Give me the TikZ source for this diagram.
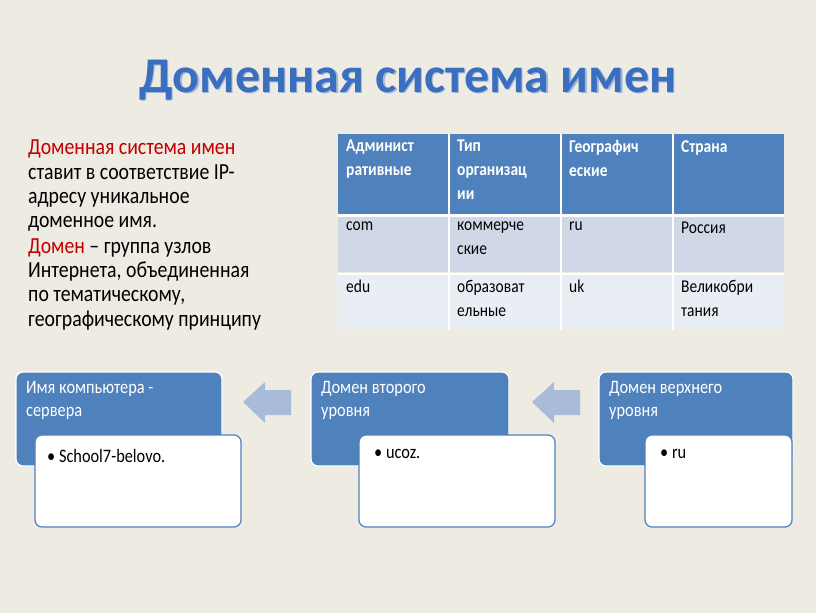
\documentclass[tikz,border=0pt]{standalone}
\usepackage{fontspec}
\setmainfont[FakeStretch=0.86]{Carlito}
\newfontfamily\ttlfont{Carlito}
\definecolor{bg}{HTML}{EEEBE2}
\definecolor{hdr}{HTML}{4F81BD}
\definecolor{rowa}{HTML}{D0D8E8}
\definecolor{rowb}{HTML}{E9EDF4}
\definecolor{arr}{HTML}{A9BBD9}
\definecolor{ttl}{HTML}{3A6EBE}
\definecolor{ttlsh}{HTML}{9DB5DA}
\definecolor{red}{HTML}{C00000}
\begin{document}
\begin{tikzpicture}[x=1pt,y=-1pt,
  cell/.style={anchor=north west,inner sep=0pt,align=left,font=\fontsize{18}{24}\selectfont},
  hcell/.style={cell,text=white,font=\fontsize{18}{24}\selectfont\bfseries},
  bluebox/.style={fill=hdr,draw=white,line width=1.2pt,rounded corners=7pt},
  whitebox/.style={fill=white,draw=hdr,line width=1.2pt,rounded corners=7pt},
  btxt/.style={anchor=north west,inner sep=0pt,text=white,font=\fontsize{19}{23}\selectfont,align=left},
  wtxt/.style={anchor=north west,inner sep=0pt,font=\fontsize{19}{20}\selectfont},
  arrowshape/.style={fill=arr}]
\fill[bg] (0,0) rectangle (816,613);
\node[text=ttlsh] (titlesh) at (409.5,81.5) {\ttlfont\fontsize{50}{56}\selectfont\bfseries Доменная система имен};
\node[text=ttl] (title) at (408,80) {\ttlfont\fontsize{50}{56}\selectfont\bfseries Доменная система имен};
\node[anchor=north west,inner sep=0pt,align=left,font=\fontsize{23}{24.3}\selectfont] (left) at (28,140)
 {\textcolor{red}{Доменная система имен}\\ ставит в соответствие IP-\\адресу уникальное\\доменное имя.\\[1pt]
 \textcolor{red}{Домен} – группа узлов\\Интернета, объединенная\\по тематическому,\\географическому принципу};
% table
\fill[hdr] (338,134) rectangle (784,214);
\fill[rowa] (338,217) rectangle (784,272);
\fill[rowb] (338,275) rectangle (784,330);
\foreach \x in {449,561,673} {\draw[white,line width=2pt] (\x,134) -- (\x,330);}
\draw[white,line width=3pt] (338,215.5) -- (784,215.5);
\draw[white,line width=2pt] (338,273.5) -- (784,273.5);
\node[hcell] (h1) at (346,140) {Админист\\ративные};
\node[hcell] (h2) at (457,140) {Тип\\организац\\ии};
\node[hcell] (h3) at (569,140) {Географич\\еские};
\node[hcell] (h4) at (681,140) {Страна};
\node[cell] (c1) at (346,222) {com};
\node[cell] (c2) at (457,222) {коммерче\\ские};
\node[cell] (c3) at (569,222) {ru};
\node[cell] (c4) at (681,222) {Россия};
\node[cell] (d1) at (346,280) {edu};
\node[cell] (d2) at (457,280) {образоват\\ельные};
\node[cell] (d3) at (569,280) {uk};
\node[cell] (d4) at (681,280) {Великобри\\тания};
% bottom boxes
\draw[bluebox] (16,372) rectangle (222,466);
\draw[whitebox] (35,435) rectangle (241,527);
\node[btxt] (b1) at (26,381) {Имя компьютера -\\сервера};
\node[wtxt] (w1) at (47,449) {• School7-belovo.};
\draw[bluebox] (311,372) rectangle (509,466);
\draw[whitebox] (359,435) rectangle (555,527);
\node[btxt] (b2) at (321,381) {Домен второго\\уровня};
\node[wtxt] (w2) at (374,449) {• ucoz.};
\draw[bluebox] (599,372) rectangle (793,466);
\draw[whitebox] (645,435) rectangle (792,527);
\node[btxt] (b3) at (609,381) {Домен верхнего\\уровня};
\node[wtxt] (w3) at (660,449) {• ru};
% arrows
\fill[arrowshape] (243,402) -- (265,382) -- (265,390) -- (291,390) -- (291,415) -- (265,415) -- (265,423) -- cycle;
\fill[arrowshape] (532,402) -- (554,382) -- (554,390) -- (580,390) -- (580,415) -- (554,415) -- (554,423) -- cycle;
\end{tikzpicture}
\end{document}
